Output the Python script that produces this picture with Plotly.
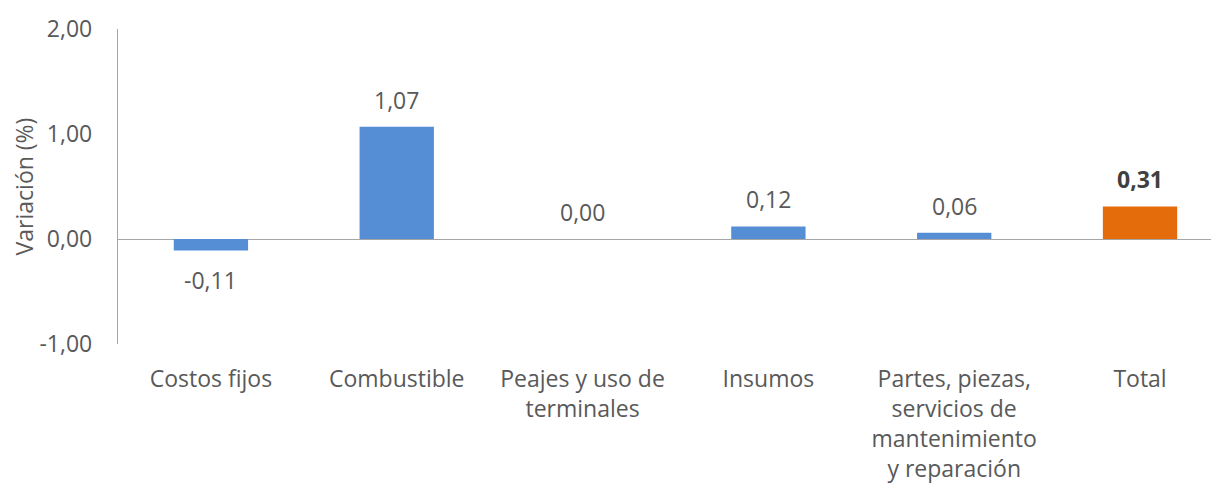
import plotly.graph_objects as go

categories = ["Costos fijos", "Combustible", "Peajes y uso de<br>terminales", "Insumos",
              "Partes, piezas,<br>servicios de<br>mantenimiento<br>y reparación", "Total"]
values = [-0.11, 1.07, 0.00, 0.12, 0.06, 0.31]
labels = ["-0,11", "1,07", "0,00", "0,12", "0,06", "<b>0,31</b>"]
tick_vals = [-1, 0, 1, 2]
tick_text = ["-1,00", "0,00", "1,00", "2,00"]

BLUE = "#558ED5"
ORANGE = "#E46C0A"
colors = [ORANGE if c == "Total" else BLUE for c in categories]
FONT = "Open Sans"
GREY = "#595959"
FS = 23

fig = go.Figure()
fig.add_trace(go.Bar(
    x=list(range(len(categories))), y=values, width=0.4,
    marker=dict(color=colors, line=dict(width=0)),
    hoverinfo="skip",
))

for i, (v, t) in enumerate(zip(values, labels)):
    fig.add_annotation(
        x=i, y=v, xref="x", yref="y",
        text=t, showarrow=False,
        yshift=27 if v >= 0 else -29,
        font=dict(family=FONT, size=FS, color="#404040" if "<b>" in t else GREY),
    )

# page body has an 8px default margin, so the figure is sized 8px smaller
fig.update_layout(
    width=1211, height=480,
    margin=dict(l=110, r=0, t=21, b=144, autoexpand=False),
    paper_bgcolor="white", plot_bgcolor="white",
    showlegend=False,
    font=dict(family=FONT, size=FS, color=GREY),
)
fig.update_xaxes(
    range=[-0.5, 5.425], automargin=False,
    tickmode="array", tickvals=list(range(len(categories))), ticktext=categories,
    showgrid=False, showline=False, zeroline=False, ticks="",
    tickfont=dict(family=FONT, size=FS, color=GREY), tickangle=0,
    ticklabelstandoff=19,
)
fig.update_yaxes(
    range=[-1, 2], automargin=False, tickmode="array", tickvals=tick_vals, ticktext=tick_text,
    showgrid=False, zeroline=True, zerolinecolor="#A6A6A6", zerolinewidth=1.3,
    showline=True, linecolor="#A6A6A6", linewidth=1.3,
    ticks="", ticklabelstandoff=20,
    tickfont=dict(family=FONT, size=FS, color=GREY),
    title=dict(text="Variación (%)", font=dict(family=FONT, size=FS, color=GREY), standoff=2),
)

fig.write_html("out.html")
